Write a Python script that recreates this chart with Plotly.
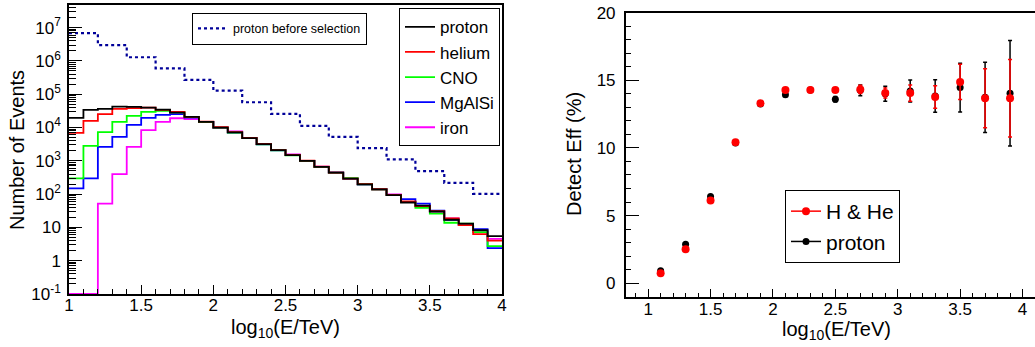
import plotly.graph_objects as go

# ---------------- data ----------------
# left panel: histograms, log10(E/TeV) bins
edges_sel = [round(1.0 + 0.1 * i, 1) for i in range(31)]
edges_all = [round(1.0 + 0.2 * i, 1) for i in range(16)]

proton_before = [6.8e6, 3.0e6, 1.29e6, 6.0e5, 2.7e5, 1.29e5, 5.75e4, 2.57e4,
                 1.12e4, 5250, 2400, 1100, 490, 219, 102]

proton = [19500, 33900, 36300, 42700, 41700, 39800, 34700, 28200, 20900, 14800,
          10000, 7200, 4800, 3160, 2090, 1480, 1000, 660, 440, 290,
          195, 138, 93, 56, 45, 30, 17, 13, 8.3, 5.5]
helium = [6900, 15800, 25100, 36300, 38000, 39800, 33900, 29500, 21000, 15000,
          10200, 7300, 4900, 3200, 2100, 1500, 1010, 670, 445, 290,
          200, 140, 95, 60, 44, 31, 18.6, 11.7, 6.3, 4.0]
cno = [295, 2820, 7240, 14800, 22400, 29500, 31600, 28800, 20500, 14600,
       10000, 7100, 4800, 3150, 2080, 1470, 1000, 660, 440, 300,
       198, 138, 93, 58, 39, 26, 13.8, 13, 7.2, 2.75]
mgalsi = [148, 295, 2630, 5250, 12000, 19500, 24000, 25100, 20000, 14700,
          10000, 7100, 4850, 3150, 2080, 1490, 1000, 660, 440, 290,
          195, 140, 95, 71, 52, 32, 17, 12, 8.9, 2.4]
iron = [0, 0, 52, 400, 2630, 8300, 14800, 19000, 17800, 14500,
        10000, 7600, 4900, 3200, 2100, 1550, 1000, 670, 450, 290,
        195, 142, 98, 58, 42, 30, 18.6, 12, 7.5, 4.5]

# right panel: detection efficiency (%)
eff_x = [1.1, 1.3, 1.5, 1.7, 1.9, 2.1, 2.3, 2.5, 2.7, 2.9, 3.1, 3.3, 3.5, 3.7, 3.9]
eff_hhe = [0.74, 2.51, 6.11, 10.42, 13.3, 14.29, 14.29, 14.29, 14.33, 14.06,
           14.06, 13.77, 14.88, 13.67, 13.67]
eff_hhe_err = [0.05, 0.06, 0.08, 0.1, 0.1, 0.12, 0.12, 0.15, 0.3, 0.37,
               0.6, 0.83, 1.3, 2.18, 2.87]
eff_p = [0.91, 2.88, 6.4, 10.37, 13.25, 13.94, 14.29, 13.6, 14.26, 14.01,
         14.21, 13.84, 14.46, 13.74, 14.04]
eff_p_err = [0.05, 0.07, 0.1, 0.12, 0.12, 0.12, 0.15, 0.2, 0.4, 0.55,
             0.82, 1.2, 1.8, 2.6, 3.9]

YMIN = 0.1  # log-axis floor: empty bins drawn on the frame, ROOT style


def step(edges, vals):
    y = [v if v > 0 else YMIN for v in vals]
    return edges, y + [y[-1]]


fig = go.Figure()

# before-selection histogram (dotted)
xs, ys = step(edges_all, proton_before)
fig.add_trace(go.Scatter(x=xs, y=ys, mode="lines", line_shape="hv",
                         line=dict(color="#000099", width=2.2, dash="3px,3px"),
                         name="proton before selection", legend="legend",
                         xaxis="x", yaxis="y"))

species = [("iron", iron, "#ff00ff", 5), ("MgAlSi", mgalsi, "#0000ff", 4),
           ("CNO", cno, "#00ff00", 3), ("helium", helium, "#ff0000", 2),
           ("proton", proton, "#000000", 1)]
for name, vals, col, rank in species:
    xs, ys = step(edges_sel, vals)
    fig.add_trace(go.Scatter(x=xs, y=ys, mode="lines", line_shape="hv",
                             line=dict(color=col, width=1.8), name=name,
                             legend="legend2", legendrank=rank,
                             xaxis="x", yaxis="y"))

# right panel
fig.add_trace(go.Scatter(x=eff_x, y=eff_p, mode="markers",
                         marker=dict(color="black", size=7),
                         error_y=dict(type="data", array=eff_p_err, color="black",
                                      thickness=1.5, width=2),
                         showlegend=False, xaxis="x2", yaxis="y2"))
fig.add_trace(go.Scatter(x=eff_x, y=eff_hhe, mode="markers",
                         marker=dict(color="red", size=8),
                         error_y=dict(type="data", array=eff_hhe_err, color="red",
                                      thickness=1.5, width=2),
                         showlegend=False, xaxis="x2", yaxis="y2"))
# legend entries (line + marker look)
fig.add_trace(go.Scatter(x=[None], y=[None], mode="lines+markers",
                         line=dict(color="red", width=1.5),
                         marker=dict(color="red", size=8), name="H &amp; He",
                         legend="legend3", legendrank=1, xaxis="x2", yaxis="y2"))
fig.add_trace(go.Scatter(x=[None], y=[None], mode="lines+markers",
                         line=dict(color="black", width=1.5),
                         marker=dict(color="black", size=7), name="proton",
                         legend="legend3", legendrank=2, xaxis="x2", yaxis="y2"))

W, H = 1035, 347


def px(x):
    return x / W


def py(y):
    return 1 - y / H


FONT = "Liberation Sans, Arial, sans-serif"
tickfont = dict(family=FONT, size=17, color="black")

log_major = [10.0 ** k for k in range(-1, 8)]
log_text = ["10<sup>-1</sup>", "1", "10"] + ["10<sup>%d</sup>" % k for k in range(2, 8)]
log_minor = [m * 10.0 ** k for k in range(-1, 8) for m in range(2, 10)]

axis_common = dict(showline=True, linecolor="black", linewidth=1.5, mirror=True,
                   ticks="inside", tickcolor="black", showgrid=False,
                   zeroline=False, tickfont=tickfont, automargin=False)

title_common = dict(xref="paper", yref="paper", showarrow=False,
                    xanchor="center", yanchor="middle",
                    font=dict(family=FONT, size=20, color="black"))

fig.update_layout(
    template="none",
    width=W, height=H,
    margin=dict(l=0, r=0, t=0, b=0, pad=0),
    paper_bgcolor="white", plot_bgcolor="white",
    font=dict(family=FONT, color="black"),
    xaxis=dict(domain=[px(69), px(502)], range=[1, 4], anchor="y",
               tickmode="linear", tick0=1, dtick=0.5, ticklen=9, tickwidth=1.2,
               minor=dict(ticks="inside", dtick=0.1, ticklen=5, tickcolor="black",
                          tickwidth=1),
               ticklabelstandoff=-5, **axis_common),
    yaxis=dict(domain=[py(294), py(5)], type="log", range=[-1, 7.68], anchor="x",
               tickmode="array", tickvals=log_major, ticktext=log_text,
               ticklen=13, tickwidth=1.2,
               minor=dict(ticks="inside", tickmode="array", tickvals=log_minor,
                          ticklen=7, tickcolor="black", tickwidth=1),
               ticklabelstandoff=3, **axis_common),
    xaxis2=dict(domain=[px(625.7), 1.0], range=[0.82, 4.1], anchor="y2",
                tickmode="linear", tick0=1, dtick=0.5, ticklen=8, tickwidth=1.2,
                minor=dict(ticks="inside", dtick=0.1, ticklen=4, tickcolor="black",
                           tickwidth=1),
                ticklabelstandoff=-4, **axis_common),
    yaxis2=dict(domain=[py(296.7), py(12.7)], range=[-1, 20], anchor="x2",
                tickmode="linear", tick0=0, dtick=5, ticklen=14, tickwidth=1.2,
                minor=dict(ticks="inside", dtick=1, ticklen=6, tickcolor="black",
                           tickwidth=1),
                ticklabelstandoff=5, **axis_common),
    legend=dict(x=px(192), y=py(12.7), xanchor="left", yanchor="top",
                bordercolor="black", borderwidth=1, bgcolor="white",
                font=dict(family=FONT, size=12.5, color="black")),
    legend2=dict(x=px(500), y=py(8.3), xanchor="right", yanchor="top",
                 bordercolor="black", borderwidth=1, bgcolor="white",
                 font=dict(family=FONT, size=17, color="black")),
    legend3=dict(x=px(785), y=py(190), xanchor="left", yanchor="top",
                 bordercolor="black", borderwidth=1, bgcolor="white",
                 tracegroupgap=0,
                 font=dict(family=FONT, size=21, color="black")),
    annotations=[
        dict(text="log<sub>10</sub>(E/TeV)", x=px(285), y=py(328), **title_common),
        dict(text="Number of Events", x=px(17), y=py(150), textangle=-90,
             **title_common),
        dict(text="Detect Eff (%)", x=px(574), y=py(154), textangle=-90,
             **title_common),
        dict(text="log<sub>10</sub>(E/TeV)", x=px(836), y=py(330), **title_common),
    ],
)

fig.write_html("out.html")
